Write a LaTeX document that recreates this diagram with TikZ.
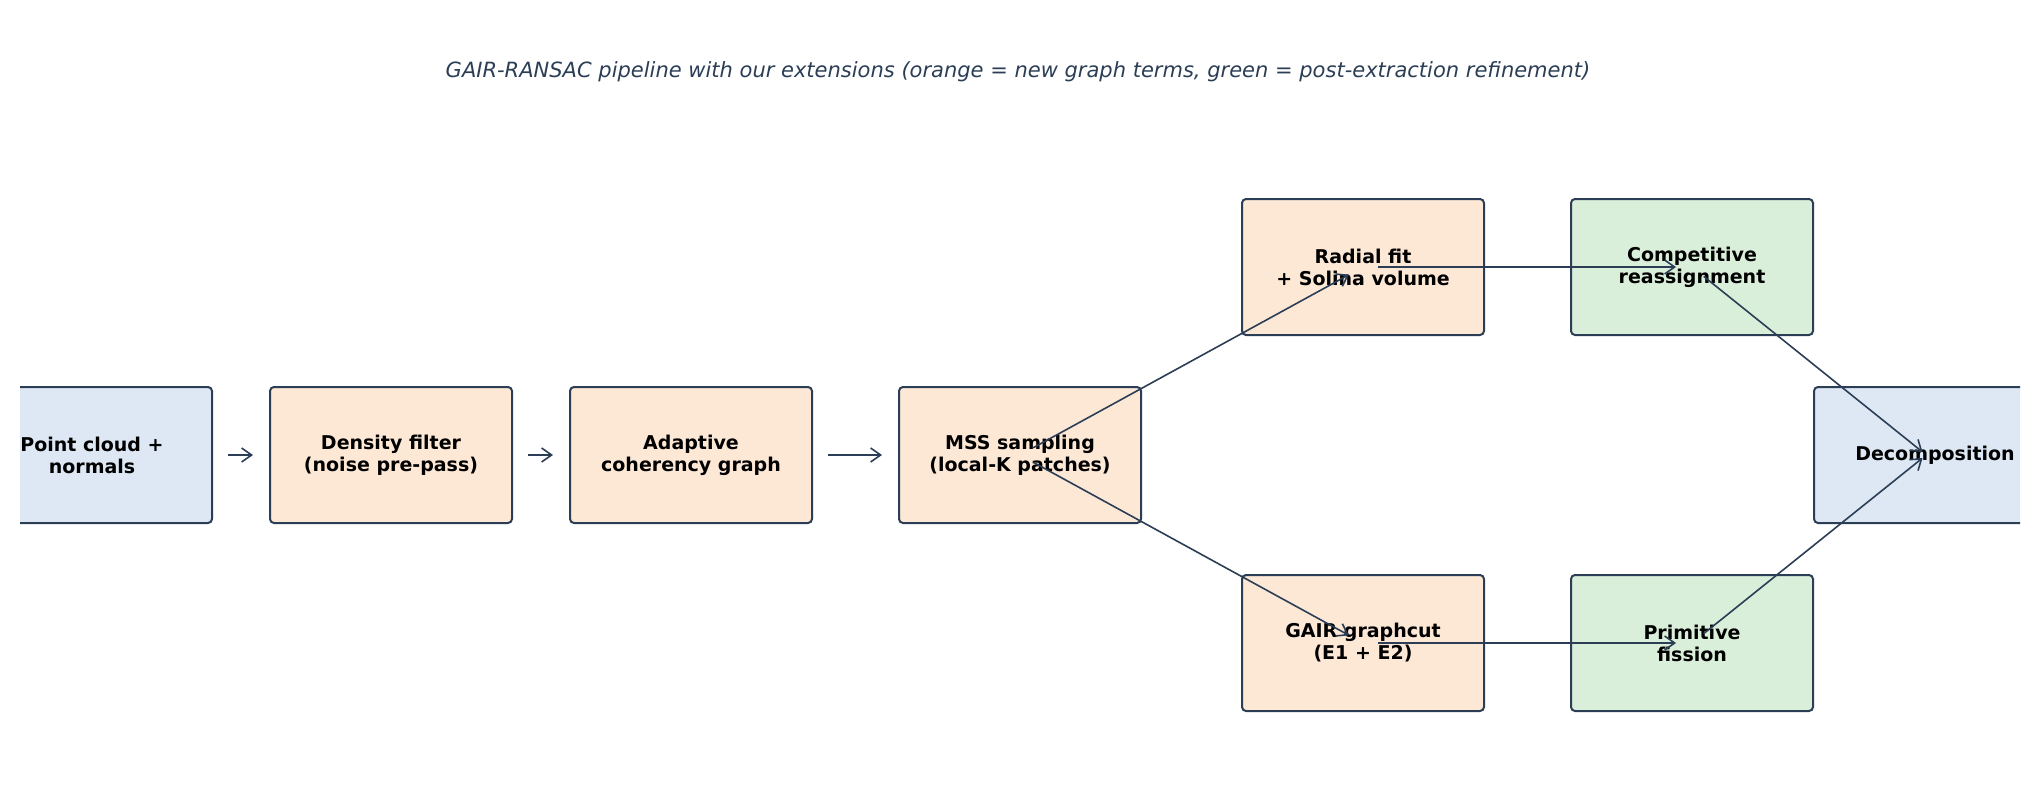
\documentclass[tikz,border=0pt]{standalone}
\usepackage{fontspec}
\setmainfont{DejaVu Sans}
\usetikzlibrary{arrows.meta}
\definecolor{edge}{HTML}{2B3E55}
\definecolor{fo}{HTML}{FDE8D6}
\definecolor{fg}{HTML}{D9EFD9}
\definecolor{fb}{HTML}{DDE8F4}
\begin{document}
\begin{tikzpicture}[x=1pt,y=-1pt,
  box/.style={draw=edge,line width=2pt,rounded corners=4pt,minimum width=242pt,minimum height=136pt,align=center,font=\fontsize{19}{22}\selectfont\bfseries,inner sep=0pt},
  ar/.style={draw=edge,line width=1.6pt,-{Straight Barb[length=10pt,width=14pt]},shorten <=15pt,shorten >=16pt}]
\useasboundingbox (0,0) rectangle (2036,784);
\node[font=\fontsize{21}{24}\selectfont\itshape,text=edge] (t) at (1018,72) {GAIR-RANSAC pipeline with our extensions (orange = new graph terms, green = post-extraction refinement)};
\begin{scope}
\clip (20,0) rectangle (2020,784);
\node[box,fill=fb] (pc) at (91,455) {};
\node[box,fill=fo] (df) at (391,455) {Density filter\\(noise pre-pass)};
\node[box,fill=fo] (ac) at (691,455) {Adaptive\\coherency graph};
\node[box,fill=fo] (ms) at (1020,455) {MSS sampling\\(local-K patches)};
\node[box,fill=fo] (rf) at (1363,267) {Radial fit\\+ Solina volume};
\node[box,fill=fo] (gg) at (1363,643) {GAIR graphcut\\(E1 + E2)};
\node[box,fill=fg] (cr) at (1692,267) {Competitive\\reassignment};
\node[box,fill=fg] (pf) at (1692,643) {Primitive\\fission};
\node[box,fill=fb] (dc) at (1935,455) {};
\end{scope}
\node[font=\fontsize{19}{22}\selectfont\bfseries,align=center] (pct) at (92,455) {Point cloud +\\normals};
\node[font=\fontsize{19}{22}\selectfont\bfseries] (dct) at (1935,455) {Decomposition};
\draw[ar] (pc) -- (df);
\draw[ar] (df) -- (ac);
\draw[ar] (ac) -- (ms);
\draw[ar] (ms.center) -- (rf.center);
\draw[ar] (ms.center) -- (gg.center);
\draw[ar] (rf.center) -- (cr.center);
\draw[ar] (gg.center) -- (pf.center);
\draw[ar] (cr.center) -- ([yshift=-7pt]dc.center);
\draw[ar] (pf.center) -- ([yshift=7pt]dc.center);
\end{tikzpicture}
\end{document}
